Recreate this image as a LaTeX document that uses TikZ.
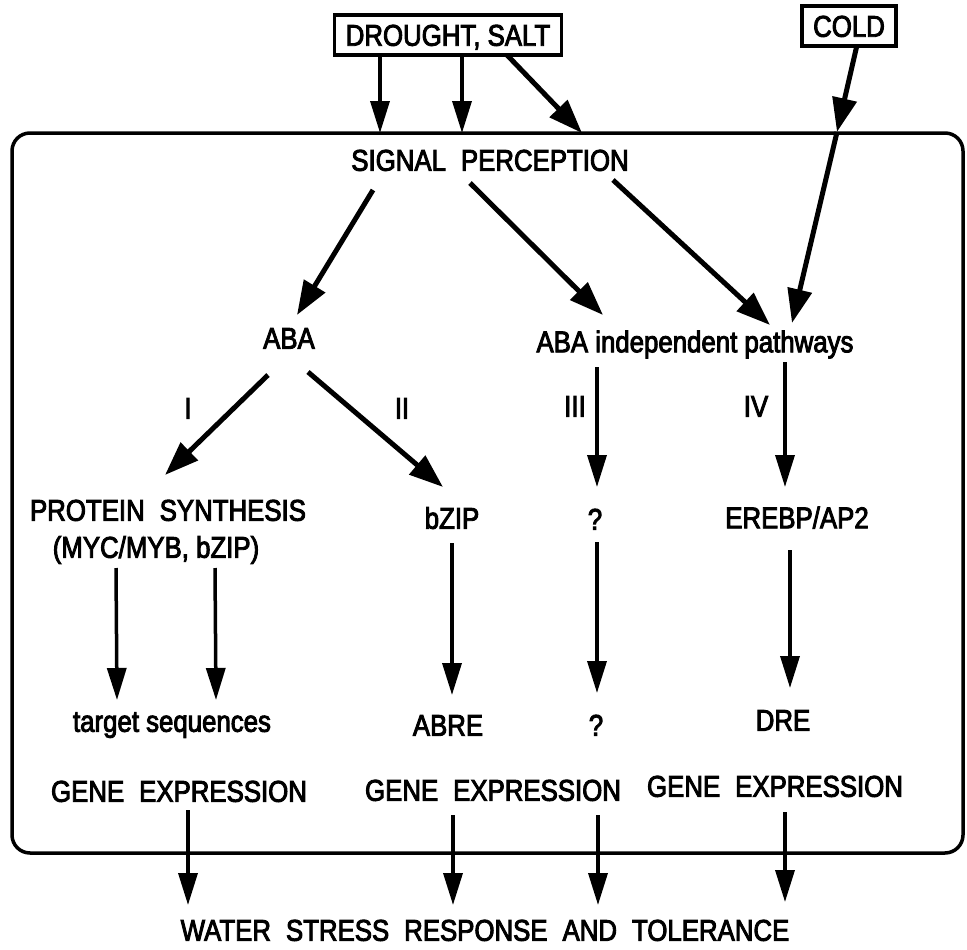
\documentclass[tikz,border=0pt]{standalone}
\usepackage{fontspec}
\setmainfont{Liberation Sans}[FakeStretch=0.86,FakeBold=3]
\usetikzlibrary{arrows.meta}
\newcommand{\wsp}{\hspace{0.5em}}

\begin{document}
\begin{tikzpicture}[x=1pt,y=-1pt,
  every node/.style={font=\fontsize{30}{34}\selectfont, inner sep=0pt, text height=21.5pt, text depth=0pt},
  stressbox/.style={draw, line width=3.5pt, inner xsep=11pt, minimum height=40pt},
  arr/.style={line width=3.5pt, -{Triangle[length=32pt,width=19pt]}},
  diag/.style={line width=5pt, -{Triangle[length=34pt,width=24pt]}},
  frame/.style={line width=3.5pt, rounded corners=18pt}]
\useasboundingbox (0,0) rectangle (967,950);

% stresses
\node[stressbox] (drought) at (448,35) {DROUGHT, SALT};
\node[stressbox] (cold) at (849,26) {COLD};

% cell
\draw[frame] (12,133) rectangle (963,853);
\coordinate (inA) at (380,133);
\coordinate (inB) at (462,133);
\coordinate (inC) at (582,133);
\coordinate (coldin) at (837,132);

\node (signal) at (490,160) {SIGNAL\wsp PERCEPTION};
\node (aba) at (289,338) {ABA};
\node (indep) at (695,341.5) {ABA independent pathways};

\node (one) at (188,408) {I};
\node (two) at (402,408) {II};
\node (three) at (575,406) {III};
\node (four) at (756,406) {IV};

\node (protein) at (168,510) {PROTEIN\wsp SYNTHESIS};
\node (myc) at (156,547) {(MYC/MYB, bZIP)};
\node (bzip) at (452,518) {bZIP};
\node (qa) at (595,519) {?};
\node (erebp) at (797,517.5) {EREBP/AP2};

\node (target) at (172,721) {target sequences};
\node (abre) at (448,725) {ABRE};
\node (qb) at (596,725) {?};
\node (dre) at (783,720) {DRE};

\node (geA) at (179,791) {GENE\wsp EXPRESSION};
\node (geB) at (493,790) {GENE\wsp EXPRESSION};
\node (geC) at (775,786) {GENE\wsp EXPRESSION};

\node (result) at (485,930) {WATER\wsp STRESS\wsp RESPONSE\wsp AND\wsp TOLERANCE};

% into the cell
\path[draw,arr] ([shift={(-68,20)}]drought.center) -- (inA);
\path[draw,arr] ([shift={(14,20)}]drought.center) -- (inB);
\path[draw,diag] ([shift={(59,20)}]drought.center) -- (inC);
\path[draw,diag] ([shift={(8,19)}]cold.center) -- (coldin);
\path[draw,diag] (coldin) -- ([shift={(97,-18.5)}]indep.center);

% perception
\path[draw,diag] ([shift={(-117,30)}]signal.center) -- ([shift={(8,-23)}]aba.center);
\path[draw,diag] ([shift={(-20,23)}]signal.center) -- ([shift={(-92,-26.5)}]indep.center);
\path[draw,diag] ([shift={(123,20)}]signal.center) -- ([shift={(75,-16.5)}]indep.center);

% pathways I-IV
\path[draw,diag] ([shift={(-21,37)}]aba.center) -- ([shift={(-3,-35)}]protein.center);
\path[draw,diag] ([shift={(19,34)}]aba.center) -- ([shift={(-9,-31)}]bzip.center);
\path[draw,arr] ([shift={(-98,25.5)}]indep.center) -- ([shift={(2,-32)}]qa.center);
\path[draw,arr] ([shift={(90,20.5)}]indep.center) -- ([shift={(-12,-30.5)}]erebp.center);

\path[draw,arr] ([shift={(-40,21)}]myc.center) -- ([shift={(-55,-21)}]target.center);
\path[draw,arr] ([shift={(59,21)}]myc.center) -- ([shift={(44,-21)}]target.center);
\path[draw,arr] ([shift={(0,25)}]bzip.center) -- ([shift={(4,-30)}]abre.center);
\path[draw,arr] ([shift={(2,23)}]qa.center) -- ([shift={(1,-32)}]qb.center);
\path[draw,arr] ([shift={(-7,32.5)}]erebp.center) -- ([shift={(7,-32)}]dre.center);

% response
\path[draw,arr] ([shift={(9,19)}]geA.center) -- ([shift={(-297,-25)}]result.center);
\path[draw,arr] ([shift={(-40,25)}]geB.center) -- ([shift={(-32,-25)}]result.center);
\path[draw,arr] ([shift={(105,25)}]geB.center) -- ([shift={(113,-25)}]result.center);
\path[draw,arr] ([shift={(10,26)}]geC.center) -- ([shift={(300,-28)}]result.center);
\end{tikzpicture}
\end{document}
